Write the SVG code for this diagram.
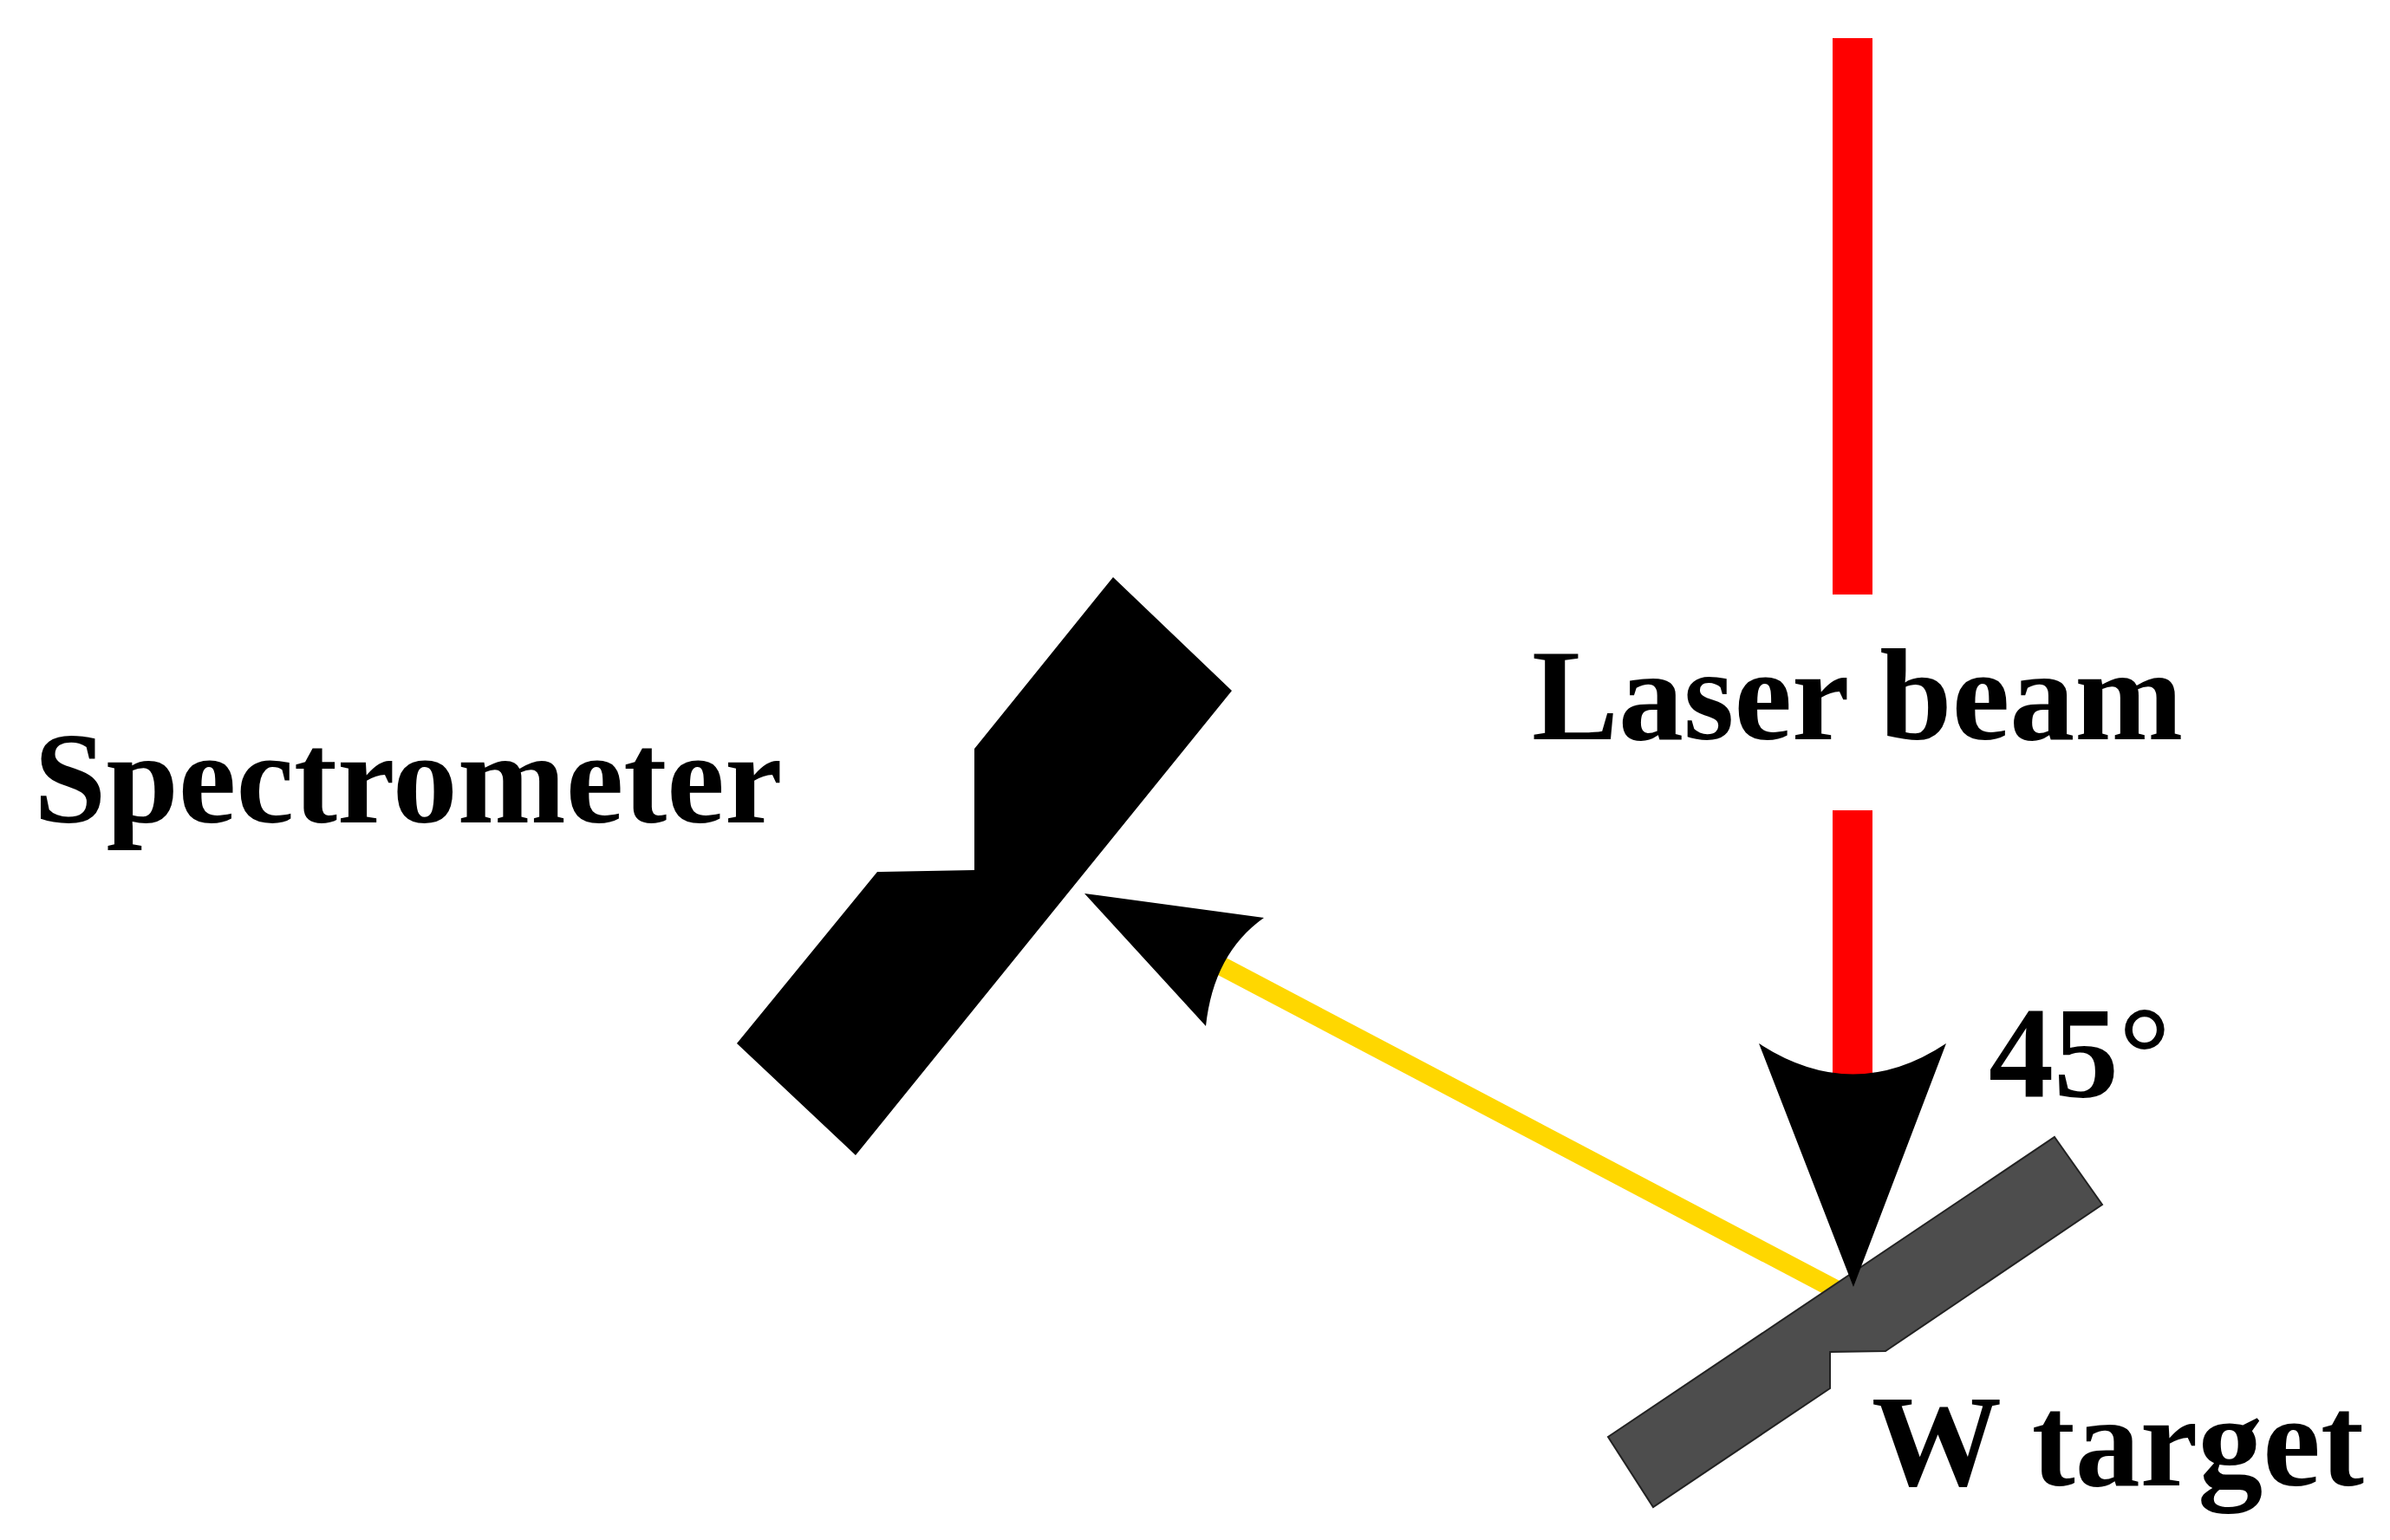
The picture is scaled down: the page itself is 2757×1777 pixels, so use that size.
<svg xmlns="http://www.w3.org/2000/svg" width="2757" height="1777" viewBox="0 0 2757 1777">
<style>
text{font-family:"Liberation Serif","Times New Roman",serif;font-weight:bold;font-size:150px;fill:#000}
</style>
<rect width="2757" height="1777" fill="#fff"/>
<g id="connectors">
<line x1="2137" y1="44" x2="2137" y2="686" stroke="#ff0000" stroke-width="46"/>
<line x1="2137" y1="935" x2="2137" y2="1250" stroke="#ff0000" stroke-width="46"/>
<line x1="2129" y1="1494" x2="1400" y2="1110" stroke="#ffd700" stroke-width="22"/>
</g>
<g id="w-target">
<polygon points="2370,1312 2425,1390 2175,1559 2111,1560 2111,1602 1907,1739 1855,1658" fill="#4d4d4d" stroke="#222" stroke-width="2"/>
<text x="2159" y="1714">W target</text>
</g>
<g id="spectrometer">
<polygon points="1284,666 1421,797 987,1333 850,1204 1012,1006 1124,1004 1124,864" fill="#000"/>
<text x="39" y="949">Spectrometer</text>
</g>
<g id="arrowheads">
<path d="M2138,1485 L2029,1204 Q2138,1275 2245,1204 Z" fill="#000"/>
<path d="M1251,1031 L1458,1059 Q1400,1100 1391,1184 Z" fill="#000"/>
</g>
<g id="laser-label">
<text x="1767" y="853">Laser beam</text>
</g>
<g id="angle-label">
<text x="2294" y="1266">45°</text>
</g>
</svg>
